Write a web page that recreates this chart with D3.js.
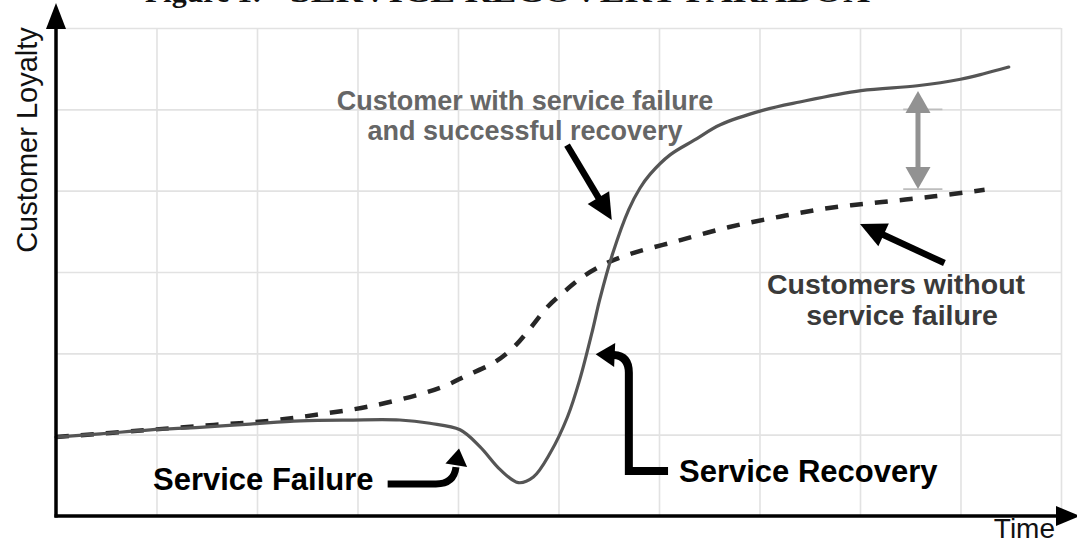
<!DOCTYPE html>
<html>
<head>
<meta charset="utf-8">
<script src="https://cdn.jsdelivr.net/npm/d3@7"></script>
<style>
  html, body { margin: 0; padding: 0; background: #fff; }
  svg { display: block; }
</style>
</head>
<body>
<svg id="chart" width="1077" height="544"></svg>
<script>
// ---- data (time units 0..10, loyalty units 0..6) ----
const recoveryTime    = [0, 0.44, 0.94, 1.43, 1.93, 2.43, 2.93, 3.42, 3.72, 4.02, 4.22, 4.42, 4.6, 4.75, 4.92, 5.09, 5.21, 5.34, 5.41, 5.54, 5.7, 5.81, 5.91, 6.11, 6.35, 6.61, 7.04, 7.4, 8.01, 8.57, 9.0, 9.24, 9.48];
const recoveryLoyalty = [0.97, 1.01, 1.06, 1.09, 1.13, 1.17, 1.18, 1.18, 1.14, 1.06, 0.85, 0.57, 0.41, 0.48, 0.78, 1.22, 1.67, 2.29, 2.66, 3.23, 3.77, 4.03, 4.2, 4.44, 4.62, 4.81, 4.99, 5.09, 5.23, 5.29, 5.37, 5.44, 5.52];
const noFailureTime    = [0, 0.94, 1.57, 2.12, 2.62, 3.13, 3.63, 3.89, 4.09, 4.35, 4.55, 4.72, 4.89, 5.05, 5.24, 5.48, 5.71, 6.18, 6.69, 7.2, 7.71, 8.22, 8.74, 9.24];
const noFailureLoyalty = [0.97, 1.06, 1.12, 1.17, 1.25, 1.35, 1.5, 1.61, 1.73, 1.88, 2.07, 2.31, 2.57, 2.75, 2.94, 3.11, 3.22, 3.38, 3.55, 3.68, 3.79, 3.86, 3.93, 4.01];
const timeGridTicks    = [1, 2, 3, 4, 5, 6, 7, 8, 9, 10];
const loyaltyGridTicks = [1, 2, 3, 4, 5, 6];

const svg = d3.select('#chart');
const x = d3.scaleLinear().domain([0, 10]).range([56, 1061]);
const y = d3.scaleLinear().domain([0, 6]).range([516, 28]);

// ---- title, cut off at the very top as in the reference ----
const title = svg.append('g').attr('font-family', '"Liberation Serif", "DejaVu Serif", serif')
  .attr('font-weight', 'bold').attr('fill', '#111').attr('font-size', 30);
title.append('text').attr('x', 145).attr('y', 1.5).text('Figure 1:');
title.append('text').attr('x', 290).attr('y', 1.5).attr('textLength', 580)
  .attr('lengthAdjust', 'spacingAndGlyphs').text('SERVICE RECOVERY PARADOX');

// ---- grid via axes ----
const gridColor = '#e2e2e2';
const gx = svg.append('g').attr('transform', `translate(0,${y(0)})`)
  .call(d3.axisBottom(x).tickValues(timeGridTicks).tickSize(-(y(0) - y(6))).tickFormat(''));
const gy = svg.append('g').attr('transform', `translate(${x(0)},0)`)
  .call(d3.axisLeft(y).tickValues(loyaltyGridTicks).tickSize(-(x(10) - x(0))).tickFormat(''));
[gx, gy].forEach(g => {
  g.select('.domain').remove();
  g.selectAll('.tick line').attr('stroke', gridColor).attr('stroke-width', 1.6);
});

// ---- curves ----
const line = d3.line().x(d => x(d[0])).y(d => y(d[1])).curve(d3.curveCatmullRom.alpha(0.5));
const noFailure = noFailureTime.map((t, i) => [t, noFailureLoyalty[i]]);
const recovery = recoveryTime.map((t, i) => [t, recoveryLoyalty[i]]);

svg.append('path').datum(noFailure).attr('d', line)
  .attr('fill', 'none').attr('stroke', '#262626').attr('stroke-width', 4.5)
  .attr('stroke-dasharray', '13,12');
svg.append('path').datum(recovery).attr('d', line)
  .attr('fill', 'none').attr('stroke', '#555').attr('stroke-width', 3.2)
  .attr('stroke-linecap', 'round');

// ---- helpers ----
function P(t, l) { return [x(t), y(l)]; }
function head(g, tip, from, len, wid, color) {
  const dx = tip[0] - from[0], dy = tip[1] - from[1], d = Math.hypot(dx, dy);
  const ux = dx / d, uy = dy / d;
  const bx = tip[0] - ux * len, by = tip[1] - uy * len;
  g.append('path')
    .attr('d', `M${tip[0]},${tip[1]}L${bx - uy * wid / 2},${by + ux * wid / 2}L${bx + uy * wid / 2},${by - ux * wid / 2}Z`)
    .attr('fill', color);
  return [bx + ux * 1, by + uy * 1];
}
function straightArrow(g, tail, tip, sw, len, wid, color) {
  const b = head(g, tip, tail, len, wid, color);
  g.append('line').attr('x1', tail[0]).attr('y1', tail[1]).attr('x2', b[0]).attr('y2', b[1])
    .attr('stroke', color).attr('stroke-width', sw);
}

// ---- axes with arrowheads ----
const ax = svg.append('g');
ax.append('line').attr('x1', x(0)).attr('y1', y(0) + 1.5).attr('x2', x(0)).attr('y2', 24)
  .attr('stroke', '#000').attr('stroke-width', 3.5);
ax.append('path').attr('d', `M${x(0)},3L${x(0) - 10},29L${x(0) + 10},29Z`).attr('fill', '#000');
ax.append('line').attr('x1', x(0) - 1.5).attr('y1', y(0)).attr('x2', 1060).attr('y2', y(0))
  .attr('stroke', '#000').attr('stroke-width', 3.5);
ax.append('path').attr('d', `M1080,${y(0)}L1056,${y(0) - 10}L1056,${y(0) + 10}Z`).attr('fill', '#000');

// ---- annotations ----
const ann = svg.append('g');
straightArrow(ann, P(5.085, 4.56), P(5.53, 3.64), 6.5, 26, 25, '#000');
straightArrow(ann, P(8.84, 3.11), P(8.0, 3.59), 6.5, 26, 25, '#000');

// Service Failure curved arrow
{
  const a = P(3.3, 0.393), b = P(3.78, 0.393), c = P(3.96, 0.393), e = P(3.98, 0.6);
  ann.append('path').attr('d', `M${a}L${b}Q${c} ${e}`)
    .attr('fill', 'none').attr('stroke', '#000').attr('stroke-width', 7);
  head(ann, P(4.01, 0.83), e, 17, 22, '#000');
}
// Service Recovery curved arrow
{
  const a = P(6.09, 0.553), b = P(5.70, 0.553), c = P(5.70, 1.76), k = P(5.70, 1.97), e = P(5.55, 1.98);
  ann.append('path').attr('d', `M${a}L${b}L${c}Q${k} ${e}`)
    .attr('fill', 'none').attr('stroke', '#000').attr('stroke-width', 8);
  head(ann, P(5.37, 1.99), e, 19, 24, '#000');
}
// gray double-headed gap arrow
{
  const g = ann.append('g');
  const top = P(8.577, 5.225), bot = P(8.577, 4.02);
  g.append('line').attr('x1', x(8.43)).attr('x2', x(8.82)).attr('y1', y(5.0)).attr('y2', y(5.0))
    .attr('stroke', '#bdbdbd').attr('stroke-width', 1.8);
  g.append('line').attr('x1', x(8.43)).attr('x2', x(8.82)).attr('y1', bot[1]).attr('y2', bot[1])
    .attr('stroke', '#bdbdbd').attr('stroke-width', 1.8);
  const b1 = head(g, top, bot, 22, 25, '#929292');
  const b2 = head(g, bot, top, 22, 25, '#929292');
  g.append('line').attr('x1', top[0]).attr('x2', top[0]).attr('y1', b1[1]).attr('y2', b2[1])
    .attr('stroke', '#929292').attr('stroke-width', 5);
}

// ---- texts ----
const sans = '"Liberation Sans", Arial, Helvetica, sans-serif';
const t = svg.append('g').attr('font-family', sans);
t.append('text').attr('transform', 'translate(37,140) rotate(-90)').attr('text-anchor', 'middle')
  .attr('font-size', 29).attr('fill', '#111').text('Customer Loyalty');
t.append('text').attr('x', 1055).attr('y', 538).attr('text-anchor', 'end')
  .attr('font-size', 28).attr('fill', '#111').text('Time');

const g1 = t.append('g').attr('font-weight', 'bold').attr('font-size', 27).attr('fill', '#666').attr('text-anchor', 'middle');
g1.append('text').attr('x', 525).attr('y', 110).text('Customer with service failure');
g1.append('text').attr('x', 525).attr('y', 140).text('and successful recovery');

const g2 = t.append('g').attr('font-weight', 'bold').attr('font-size', 28.5).attr('fill', '#3a3a3a').attr('text-anchor', 'middle');
g2.append('text').attr('x', 896).attr('y', 294).text('Customers without');
g2.append('text').attr('x', 902).attr('y', 325).text('service failure');

const g3 = t.append('g').attr('font-weight', 'bold').attr('font-size', 31).attr('fill', '#000');
g3.append('text').attr('x', 153).attr('y', 490).text('Service Failure');
g3.append('text').attr('x', 679).attr('y', 482).text('Service Recovery');
</script>
</body>
</html>
